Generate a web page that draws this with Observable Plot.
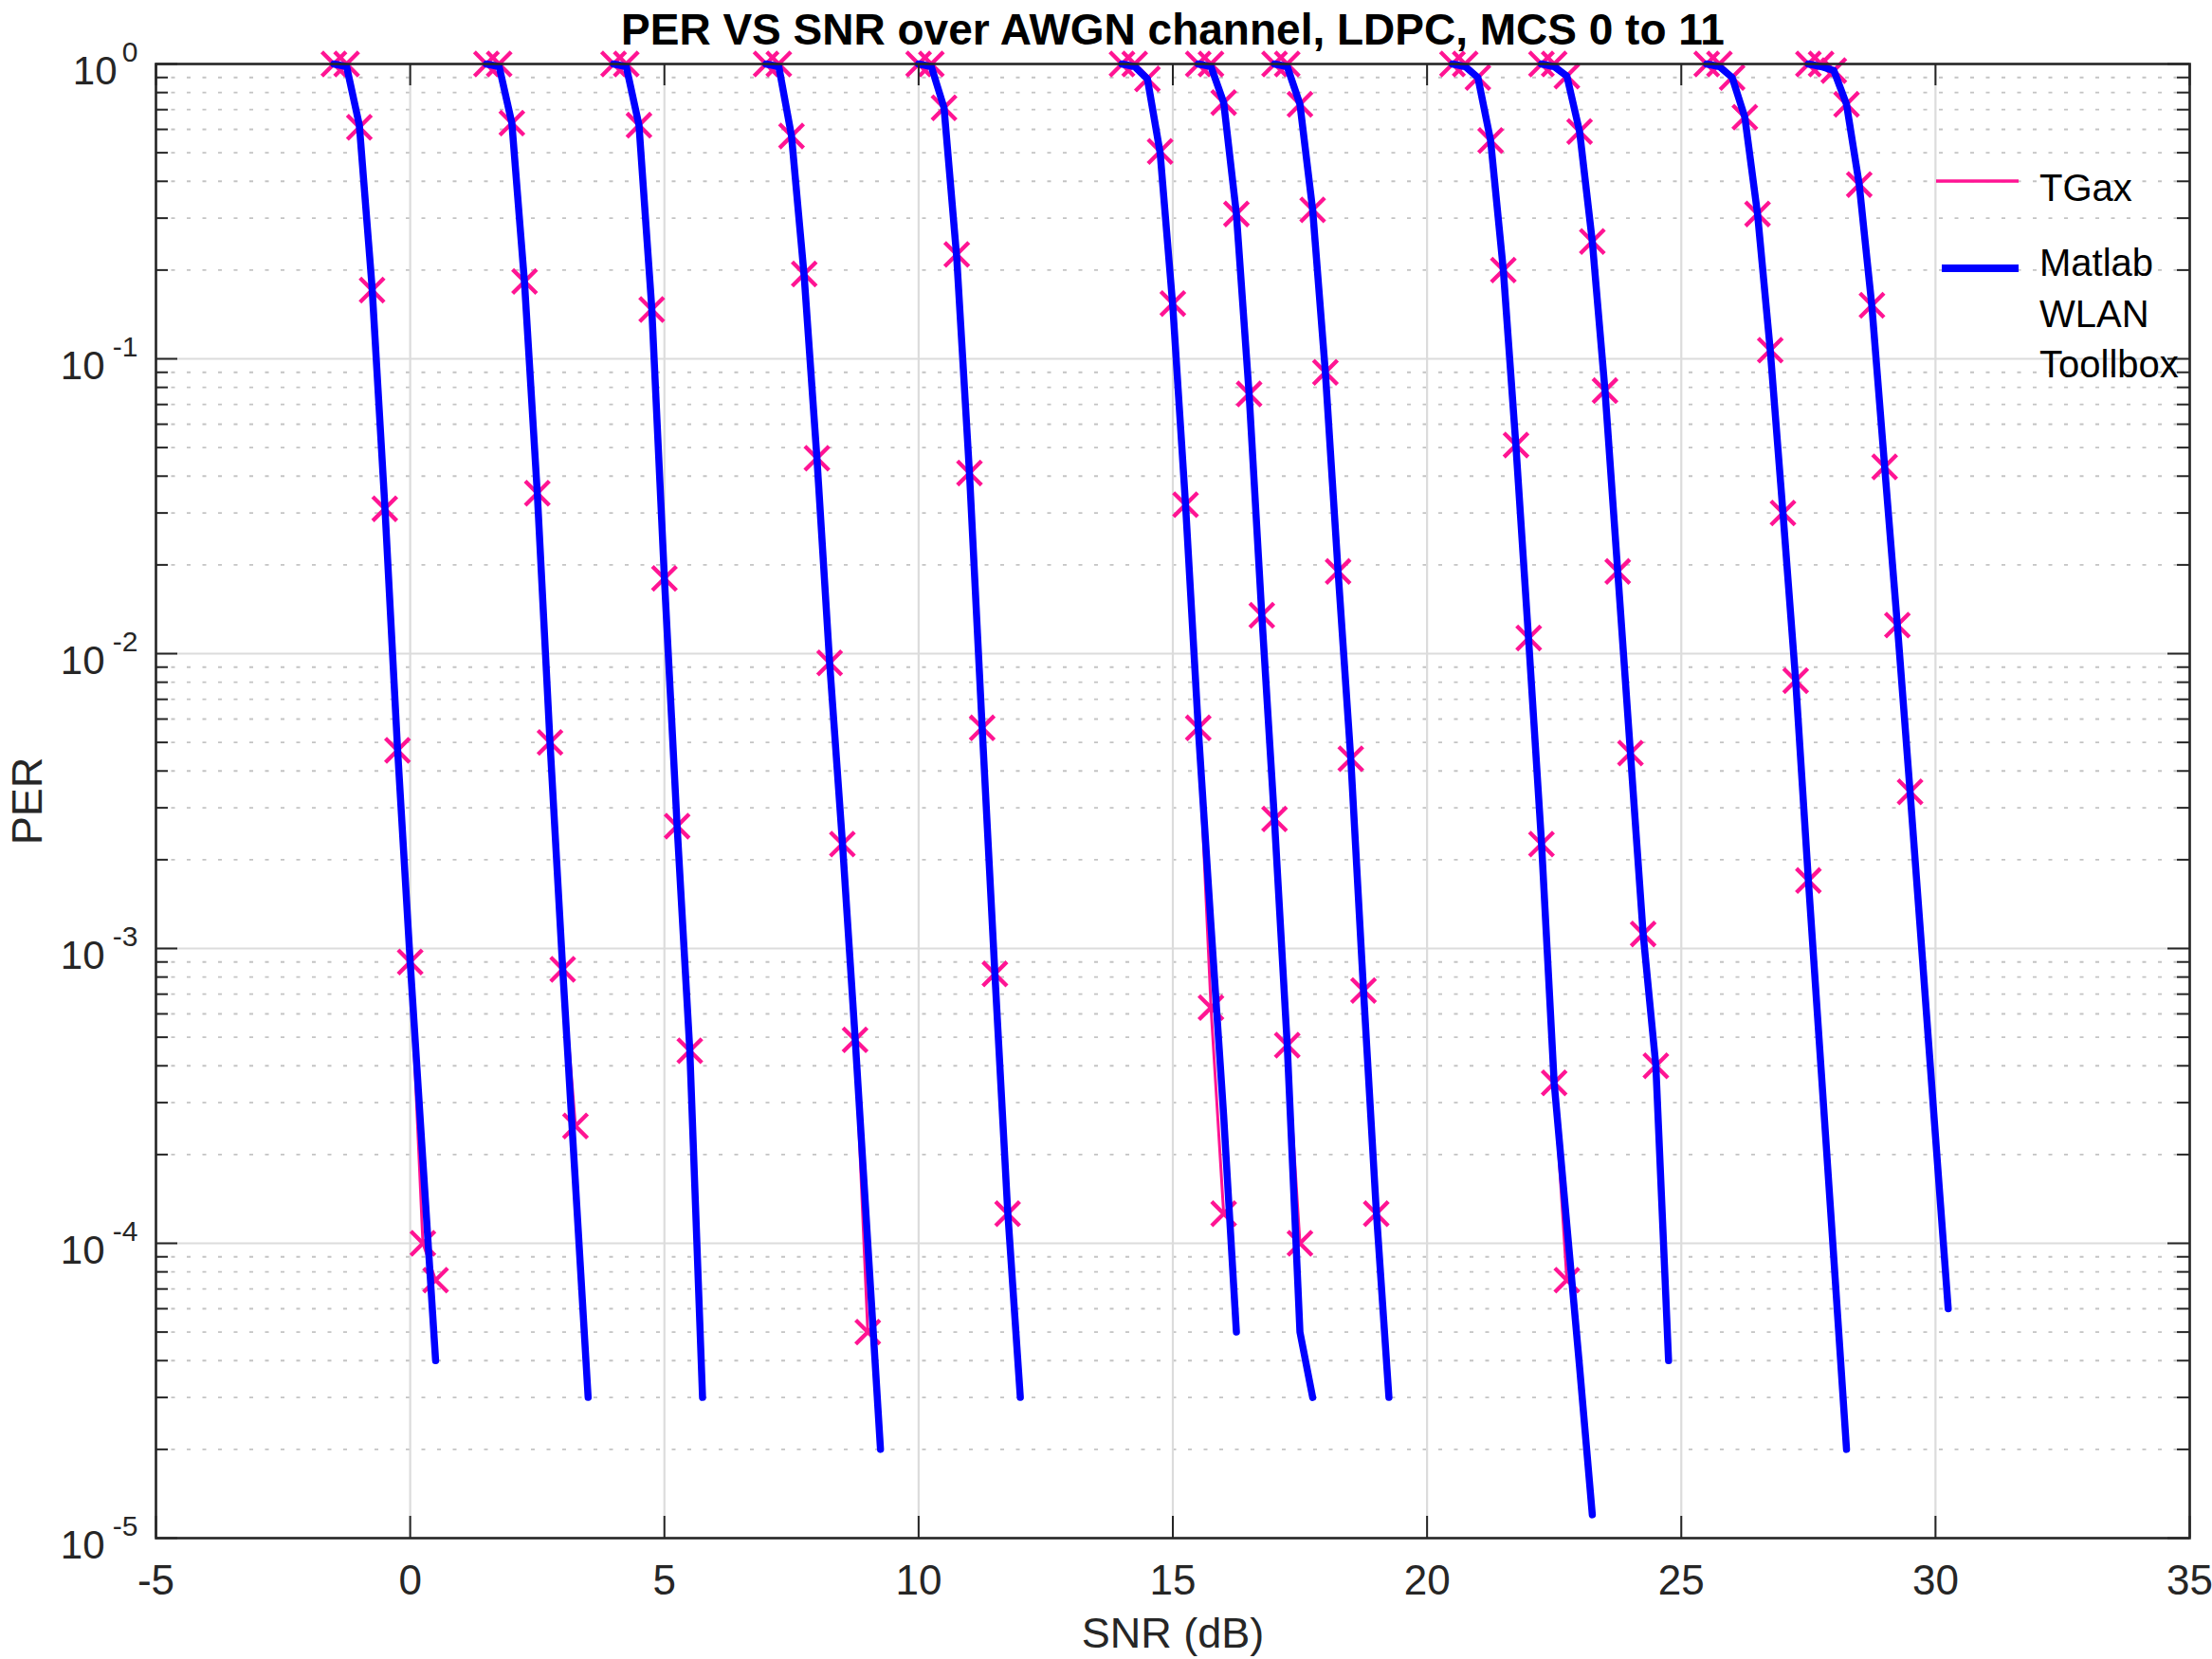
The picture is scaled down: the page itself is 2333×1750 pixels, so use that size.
<!DOCTYPE html>
<html>
<head>
<meta charset="utf-8">
<script src="https://cdn.jsdelivr.net/npm/d3@7"></script>
<script src="https://cdn.jsdelivr.net/npm/@observablehq/plot@0.6"></script>
<style>
  html, body { margin: 0; padding: 0; background: #ffffff; }
  #chart svg { display: block; }
</style>
</head>
<body>
<div id="chart"></div>
<script>
// ---------------- data ----------------
const titleText = "PER VS SNR over AWGN channel, LDPC, MCS 0 to 11";
const xLabel = "SNR (dB)";
const yLabel = "PER";
const seriesNames = ["TGax", "Matlab WLAN Toollbox"];
const legendLabels = [["TGax"], ["Matlab", "WLAN", "Toollbox"]];
const mcsNames = ["MCS0","MCS1","MCS2","MCS3","MCS4","MCS5","MCS6","MCS7","MCS8","MCS9","MCS10","MCS11"];

const xTicks = [-5, 0, 5, 10, 15, 20, 25, 30, 35];
const yDecades = [1, 1e-1, 1e-2, 1e-3, 1e-4, 1e-5];
const yExponents = [0, -1, -2, -3, -4, -5];

// TGax (pink crosses + thin line)
const tgaxSNR = [
  [-1.5, -1.25, -1, -0.75, -0.5, -0.25, 0, 0.25, 0.5],
  [1.5, 1.75, 2, 2.25, 2.5, 2.75, 3, 3.25],
  [4, 4.25, 4.5, 4.75, 5, 5.25, 5.5],
  [7, 7.25, 7.5, 7.75, 8, 8.25, 8.5, 8.75, 9],
  [10, 10.25, 10.5, 10.75, 11, 11.25, 11.5, 11.75],
  [14, 14.25, 14.5, 14.75, 15, 15.25, 15.5, 15.75, 16],
  [15.5, 15.75, 16, 16.25, 16.5, 16.75, 17, 17.25, 17.5],
  [17, 17.25, 17.5, 17.75, 18, 18.25, 18.5, 18.75, 19],
  [20.5, 20.75, 21, 21.25, 21.5, 21.75, 22, 22.25, 22.5, 22.75],
  [22.25, 22.5, 22.75, 23, 23.25, 23.5, 23.75, 24, 24.25, 24.5],
  [25.5, 25.75, 26, 26.25, 26.5, 26.75, 27, 27.25, 27.5],
  [27.5, 27.75, 28, 28.25, 28.5, 28.75, 29, 29.25, 29.5]
];
const tgaxPER = [
  [1, 1, 0.61, 0.171, 0.031, 0.0047, 9.0e-4, 1.0e-4, 7.5e-5],
  [1, 1, 0.63, 0.183, 0.035, 0.005, 8.5e-4, 2.5e-4],
  [1, 1, 0.62, 0.147, 0.018, 0.0026, 4.5e-4],
  [1, 1, 0.57, 0.194, 0.046, 0.0093, 0.00226, 4.9e-4, 5.0e-5],
  [1, 1, 0.71, 0.226, 0.041, 0.0056, 8.2e-4, 1.26e-4],
  [1, 1, 0.89, 0.505, 0.154, 0.032, 0.0056, 6.3e-4, 1.26e-4],
  [1, 1, 0.74, 0.31, 0.076, 0.0135, 0.00275, 4.7e-4, 1.0e-4],
  [1, 1, 0.73, 0.32, 0.09, 0.019, 0.0044, 7.2e-4, 1.26e-4],
  [1, 1, 0.9, 0.55, 0.2, 0.051, 0.0113, 0.00226, 3.5e-4, 7.5e-5],
  [1, 1, 0.91, 0.59, 0.25, 0.078, 0.019, 0.0046, 0.00112, 4.0e-4],
  [1, 1, 0.9, 0.66, 0.31, 0.107, 0.030, 0.0081, 0.0017],
  [1, 1, 0.95, 0.73, 0.39, 0.152, 0.043, 0.0125, 0.0034]
];

// Matlab WLAN Toolbox (thick blue line)
const matlabSNR = [
  [-1.5, -1.25, -1, -0.75, -0.5, -0.25, 0, 0.25, 0.5],
  [1.5, 1.75, 2, 2.25, 2.5, 2.75, 3, 3.25, 3.5],
  [4, 4.25, 4.5, 4.75, 5, 5.25, 5.5, 5.75],
  [7, 7.25, 7.5, 7.75, 8, 8.25, 8.5, 8.75, 9, 9.25],
  [10, 10.25, 10.5, 10.75, 11, 11.25, 11.5, 11.75, 12],
  [14, 14.25, 14.5, 14.75, 15, 15.25, 15.5, 15.75, 16, 16.25],
  [15.5, 15.75, 16, 16.25, 16.5, 16.75, 17, 17.25, 17.5, 17.75],
  [17, 17.25, 17.5, 17.75, 18, 18.25, 18.5, 18.75, 19, 19.25],
  [20.5, 20.75, 21, 21.25, 21.5, 21.75, 22, 22.25, 22.5, 22.75, 23, 23.25],
  [22.25, 22.5, 22.75, 23, 23.25, 23.5, 23.75, 24, 24.25, 24.5, 24.75],
  [25.5, 25.75, 26, 26.25, 26.5, 26.75, 27, 27.25, 27.5, 27.75, 28, 28.25],
  [27.5, 27.75, 28, 28.25, 28.5, 28.75, 29, 29.25, 29.5, 29.75, 30, 30.25]
];
const matlabPER = [
  [1, 0.98, 0.62, 0.175, 0.032, 0.0048, 9.0e-4, 1.9e-4, 4.0e-5],
  [1, 0.98, 0.63, 0.18, 0.035, 0.005, 8.5e-4, 1.6e-4, 3.0e-5],
  [1, 0.98, 0.62, 0.15, 0.018, 0.0026, 4.5e-4, 3.0e-5],
  [1, 0.98, 0.57, 0.19, 0.046, 0.0093, 0.0023, 5.0e-4, 1.0e-4, 2.0e-5],
  [1, 0.98, 0.71, 0.22, 0.041, 0.0056, 8.2e-4, 1.3e-4, 3.0e-5],
  [1, 0.98, 0.89, 0.5, 0.15, 0.032, 0.0056, 1.2e-3, 2.7e-4, 5.0e-5],
  [1, 0.98, 0.74, 0.31, 0.076, 0.0135, 0.0027, 4.7e-4, 5.0e-5, 3.0e-5],
  [1, 0.98, 0.73, 0.32, 0.09, 0.019, 0.0044, 7.2e-4, 1.3e-4, 3.0e-5],
  [1, 0.98, 0.9, 0.55, 0.2, 0.05, 0.011, 0.0023, 3.5e-4, 1.15e-4, 3.8e-5, 1.2e-5],
  [1, 0.98, 0.91, 0.59, 0.25, 0.078, 0.019, 0.0046, 0.00112, 4.0e-4, 4.0e-5],
  [1, 0.98, 0.9, 0.66, 0.31, 0.107, 0.030, 0.0081, 0.0017, 3.9e-4, 8.9e-5, 2.0e-5],
  [1, 0.98, 0.95, 0.73, 0.39, 0.15, 0.043, 0.0125, 0.0034, 8.9e-4, 2.3e-4, 6.0e-5]
];

// ---------------- tables built from the arrays ----------------
const tgax = tgaxSNR.flatMap((xs, i) => xs.map((x, j) => ({mcs: mcsNames[i], snr: x, per: tgaxPER[i][j]})));
const matlab = matlabSNR.flatMap((xs, i) => xs.map((x, j) => ({mcs: mcsNames[i], snr: x, per: matlabPER[i][j]})));
const yMinor = yDecades.slice(1).flatMap(d => [2, 3, 4, 5, 6, 7, 8, 9].map(k => k * d));

// ---------------- layout / style ----------------
const W = 2333, H = 1750;
const mL = 164, mR = 24, mT = 67, mB = 128;
const fw = W - mL - mR, fh = H - mT - mB;
const pink = "#ff1493", blue = "#0000ff", axisColor = "#262626";
const font = "'Liberation Sans', Arial, Helvetica, sans-serif";

const chart = Plot.plot({
  width: W, height: H,
  marginLeft: mL, marginRight: mR, marginTop: mT, marginBottom: mB,
  style: {fontFamily: font, background: "#ffffff", color: axisColor},
  x: {domain: [-5, 35], label: null},
  y: {type: "log", domain: [1e-5, 1], label: null},
  marks: [
    // grid
    Plot.ruleY(yMinor, {stroke: "#c4c4c4", strokeWidth: 1.8, strokeDasharray: "4,12.5"}),
    Plot.ruleY(yDecades, {stroke: "#dcdcdc", strokeWidth: 2.2}),
    Plot.ruleX(xTicks, {stroke: "#dcdcdc", strokeWidth: 2.2}),
    // TGax
    Plot.line(tgax, {x: "snr", y: "per", z: "mcs", stroke: pink, strokeWidth: 3}),
    Plot.dot(tgax, {x: "snr", y: "per", symbol: "times", r: 11.6, stroke: pink, strokeWidth: 4.3}),
    // Matlab WLAN Toolbox
    Plot.line(matlab, {x: "snr", y: "per", z: "mcs", stroke: blue, strokeWidth: 7.5, strokeLinejoin: "round"}),
    // box and inward ticks
    Plot.frame({stroke: axisColor, strokeWidth: 2.6}),
    Plot.tickX(xTicks, {x: d => d, stroke: axisColor, strokeWidth: 2, insetTop: fh - 23}),
    Plot.tickX(xTicks, {x: d => d, stroke: axisColor, strokeWidth: 2, insetBottom: fh - 23}),
    Plot.tickY(yDecades, {y: d => d, stroke: axisColor, strokeWidth: 2, insetRight: fw - 23}),
    Plot.tickY(yDecades, {y: d => d, stroke: axisColor, strokeWidth: 2, insetLeft: fw - 23}),
    Plot.tickY(yMinor, {y: d => d, stroke: axisColor, strokeWidth: 2, insetRight: fw - 13}),
    Plot.tickY(yMinor, {y: d => d, stroke: axisColor, strokeWidth: 2, insetLeft: fw - 13}),
    // tick labels
    Plot.axisX(xTicks, {tickSize: 0, tickPadding: 28, fontSize: 44, tickFormat: d => String(d), label: null, fill: axisColor}),
    Plot.axisY(yDecades.slice(0, 1), {tickSize: 0, tickPadding: 41, dy: 8, fontSize: 42, tickFormat: () => "10", label: null, fill: axisColor}),
    Plot.axisY(yDecades.slice(1), {tickSize: 0, tickPadding: 54, dy: 8, fontSize: 42, tickFormat: () => "10", label: null, fill: axisColor}),
    Plot.axisY(yDecades, {tickSize: 0, tickPadding: 19, dy: -12, fontSize: 30, tickFormat: d => {
      const e = yExponents[yDecades.indexOf(d)];
      return e < 0 ? "-" + Math.abs(e) : String(e);
    }, label: null, fill: axisColor}),
    // title and axis labels
    Plot.text([titleText], {text: d => d, frameAnchor: "top", dy: -35, lineAnchor: "middle", textAnchor: "middle", fontSize: 46, fontWeight: "bold", fill: "#000000"}),
    Plot.text([xLabel], {text: d => d, frameAnchor: "bottom", dy: 101, lineAnchor: "middle", textAnchor: "middle", fontSize: 45, fill: axisColor}),
    Plot.text([yLabel], {text: d => d, frameAnchor: "left", dx: -135, rotate: -90, lineAnchor: "middle", textAnchor: "middle", fontSize: 45, fill: axisColor})
  ]
});

// ---------------- legend (inside the box, upper right, no border) ----------------
const svgSel = d3.select(chart);
const frameRight = mL + fw, frameTop = mT;
const lg = svgSel.append("g")
  .attr("font-family", font).attr("font-size", 40).attr("fill", "#000000")
  .attr("text-anchor", "start");
const legendStyles = [
  {color: pink, width: 3.3, x1: frameRight - 267, lineY: frameTop + 124, textY: [frameTop + 145]},
  {color: blue, width: 8, x1: frameRight - 261, lineY: frameTop + 216, textY: [frameTop + 224, frameTop + 278, frameTop + 331]}
];
legendStyles.forEach((s, i) => {
  lg.append("line")
    .attr("x1", s.x1).attr("x2", frameRight - 180)
    .attr("y1", s.lineY).attr("y2", s.lineY)
    .attr("stroke", s.color).attr("stroke-width", s.width);
  legendLabels[i].forEach((t, k) => {
    lg.append("text").attr("x", frameRight - 158).attr("y", s.textY[k])
      .attr("text-anchor", "start").text(t);
  });
});

document.getElementById("chart").appendChild(chart);
</script>
</body>
</html>
